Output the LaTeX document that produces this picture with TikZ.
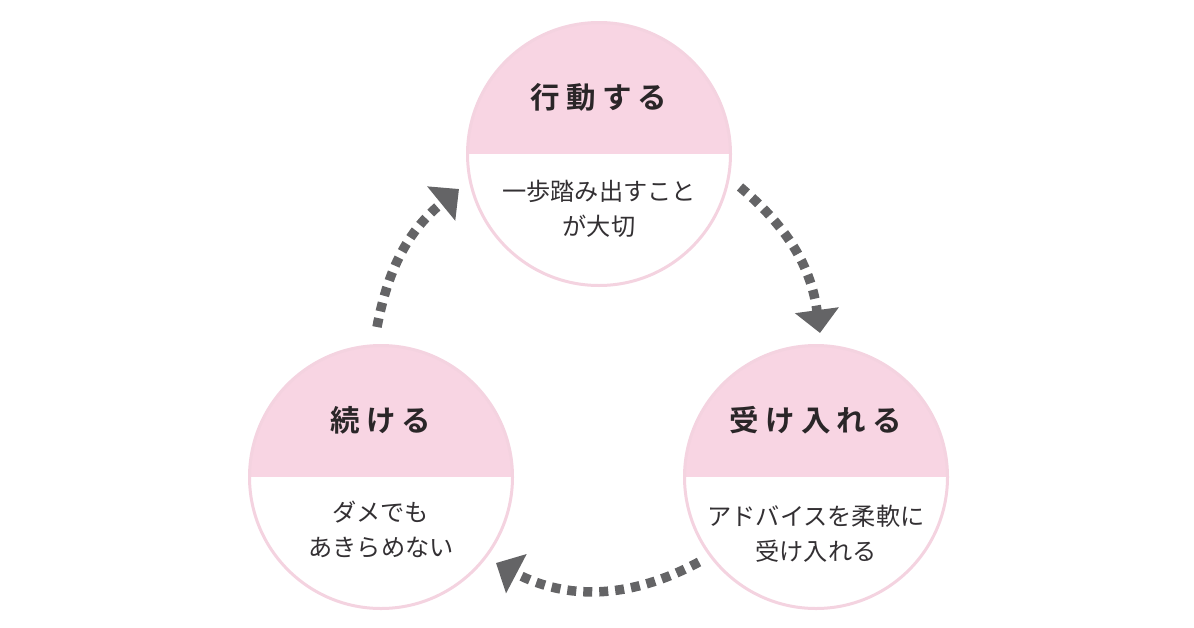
\documentclass[tikz,border=0pt]{standalone}
\usepackage{fontspec}
\usetikzlibrary{arrows.meta}
\newfontfamily\cjk{Noto Sans CJK JP}
\newfontfamily\cjkt[LetterSpace=21]{Noto Sans CJK JP Bold}
\definecolor{toppink}{HTML}{F8D5E3}
\definecolor{ringpink}{HTML}{F4D3E0}
\definecolor{arrowgray}{HTML}{646466}
\definecolor{titletext}{HTML}{2A2628}
\definecolor{bodytext}{HTML}{333033}
\begin{document}
\begin{tikzpicture}[x=1pt,y=1pt,
  bubble/.style={circle, minimum size=263pt, inner sep=0pt, draw=ringpink, line width=3pt, fill=white,
    path picture={\fill[toppink] ([xshift=-5pt,yshift=5pt]path picture bounding box.north west) rectangle ([xshift=5pt]path picture bounding box.east);}},
  titletxt/.style={font=\cjkt\fontsize{29.5}{34}\selectfont, text=titletext, inner sep=0pt},
  bodytxt/.style={font=\cjk\fontsize{24.2}{35}\selectfont, text=bodytext, align=center, inner sep=0pt},
  cyclearrow/.style={draw=arrowgray, line width=9.5pt, dash pattern=on 9pt off 7pt,
    -{Triangle[width=43pt,length=23pt]}, arrowgray}
]
\useasboundingbox (0,0) rectangle (1194,-627);

\node[bubble] (c1) at (599,-154) {};
\node[bubble] (c2) at (816,-477) {};
\node[bubble] (c3) at (381,-477) {};

\node[titletxt] (t1) at ([yshift=57pt]c1.center) {行動する};
\node[titletxt] (t2) at ([yshift=57pt]c2.center) {受け入れる};
\node[titletxt] (t3) at ([yshift=57pt]c3.center) {続ける};

\node[bodytxt] (b1) at ([yshift=-55pt]c1.center) {一歩踏み出すこと\\が大切};
\node[bodytxt] (b2) at ([yshift=-57pt]c2.center) {アドバイスを柔軟に\\受け入れる};
\node[bodytxt] (b3) at ([yshift=-53pt]c3.center) {ダメでも\\あきらめない};

\coordinate (a1s) at (740,-187);
\coordinate (a1e) at (820,-333);
\coordinate (a2s) at (699,-562);
\coordinate (a2e) at (496,-563);
\coordinate (a3s) at (377,-327);
\coordinate (a3e) at (459,-189);

\draw[cyclearrow] (a1s) to[bend left=21] (a1e);
\draw[cyclearrow] (a2s) to[bend left=28] (a2e);
\draw[cyclearrow] (a3s) to[bend left=20] (a3e);
\end{tikzpicture}
\end{document}
